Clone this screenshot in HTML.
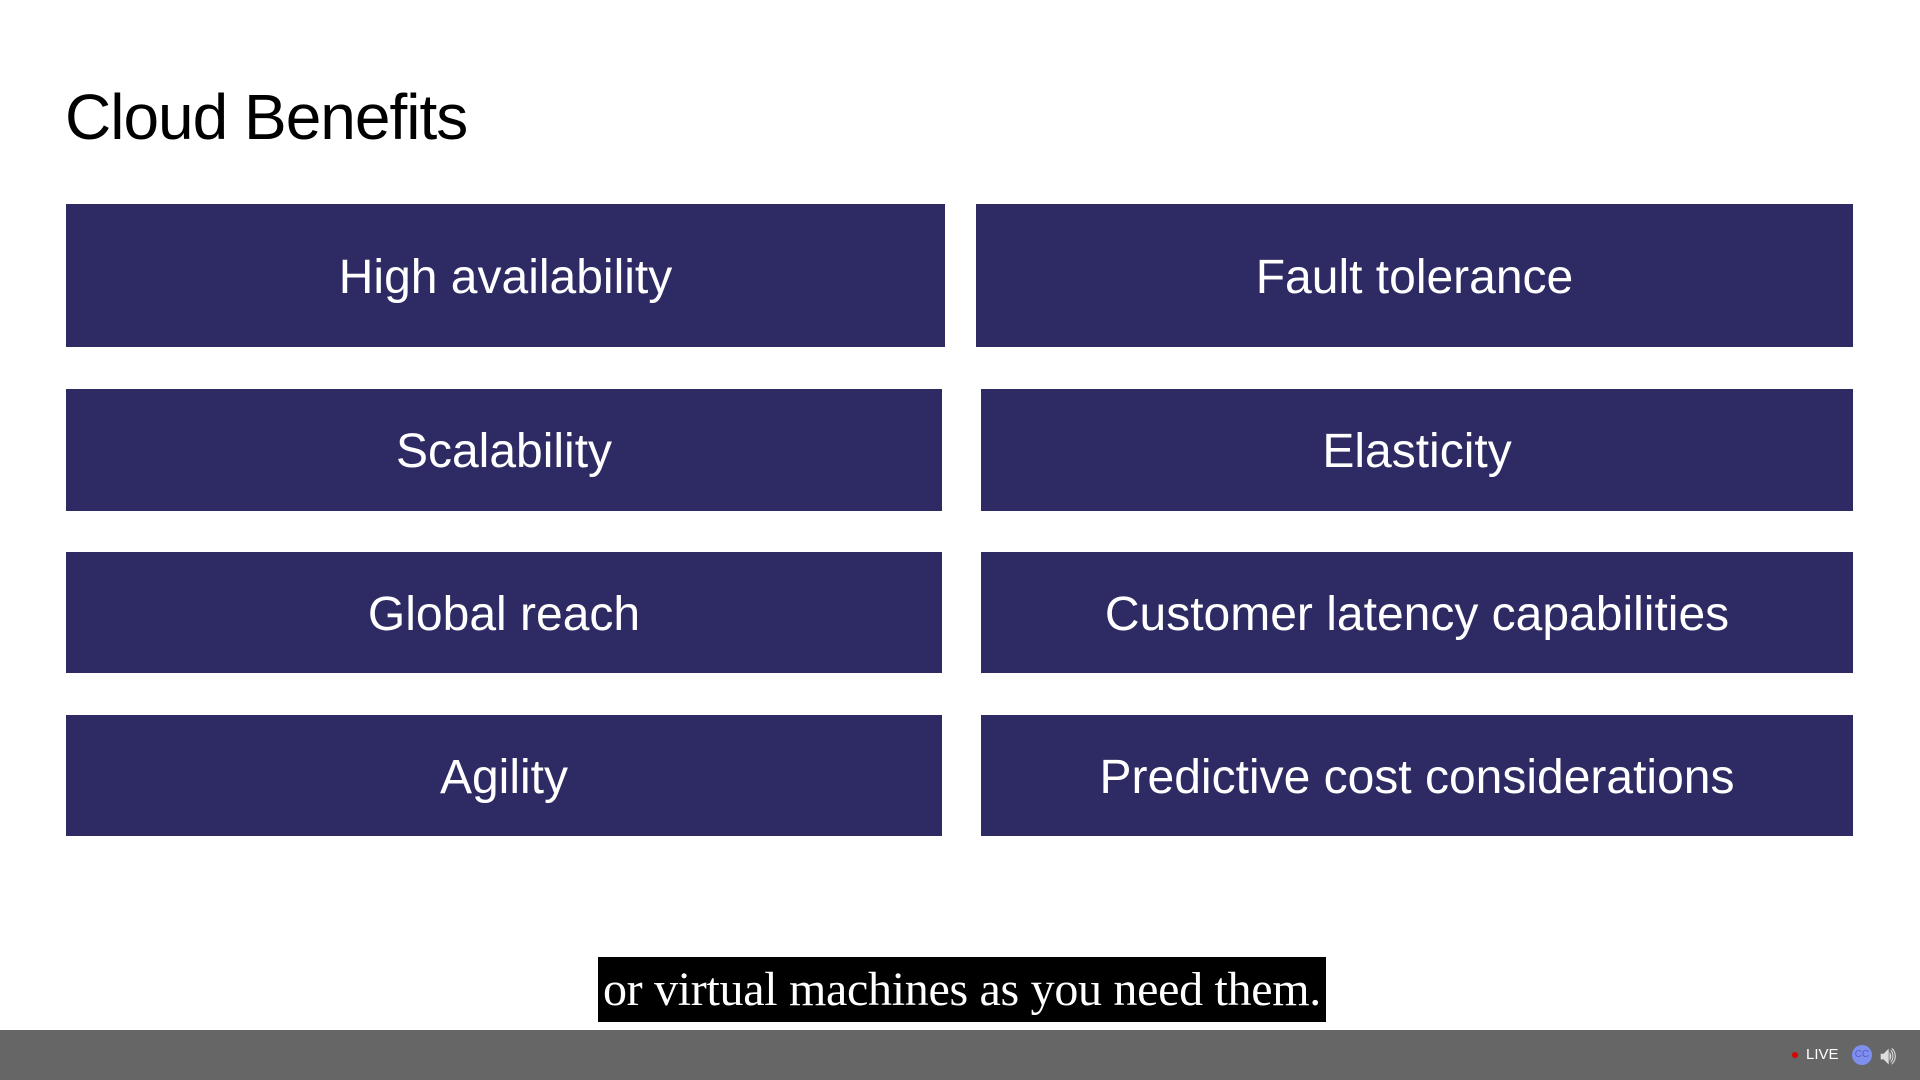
<!DOCTYPE html>
<html><head><style>
body{margin:0;width:1920px;height:1080px;background:#fff;position:relative;overflow:hidden;font-family:"Segoe UI","Liberation Sans",sans-serif}
.t{position:absolute;left:65px;top:80px;font-size:64px;color:#000;letter-spacing:-1px}
.b{position:absolute;background:#2e2a63;color:#fff;display:flex;align-items:center;justify-content:center;font-size:48px;padding-top:3px;box-sizing:border-box}
.cap{position:absolute;left:598px;top:957px;width:728px;height:65px;background:#000;color:#fff;font-family:"Liberation Serif",serif;font-size:48px;line-height:65px;text-align:center;white-space:nowrap;letter-spacing:-0.3px}
.bar{position:absolute;left:0;top:1030px;width:1920px;height:50px;background:#666}
</style></head><body>
<div class="t">Cloud Benefits</div>
<div class="b" style="left:66px;top:204px;width:879px;height:143px">High availability</div>
<div class="b" style="left:976px;top:204px;width:877px;height:143px">Fault tolerance</div>
<div class="b" style="left:66px;top:389px;width:876px;height:122px">Scalability</div>
<div class="b" style="left:981px;top:389px;width:872px;height:122px">Elasticity</div>
<div class="b" style="left:66px;top:552px;width:876px;height:121px">Global reach</div>
<div class="b" style="left:981px;top:552px;width:872px;height:121px">Customer latency capabilities</div>
<div class="b" style="left:66px;top:715px;width:876px;height:121px">Agility</div>
<div class="b" style="left:981px;top:715px;width:872px;height:121px">Predictive cost considerations</div>
<div class="cap">or virtual machines as you need them.</div>
<div class="bar">
<div style="position:absolute;left:1792px;top:22px;width:6px;height:6px;border-radius:50%;background:#d00"></div>
<div style="position:absolute;left:1806px;top:16px;color:#fff;font-size:15px">LIVE</div>
<div style="position:absolute;left:1852px;top:15px;width:20px;height:20px;border-radius:50%;background:#7f8ff0;color:#5560c0;font-size:10px;line-height:20px;text-align:center">CC</div>
<div style="position:absolute;left:1880px;top:10px;color:#ddd;font-size:26px">🔊︎</div>
</div>
</body></html>
